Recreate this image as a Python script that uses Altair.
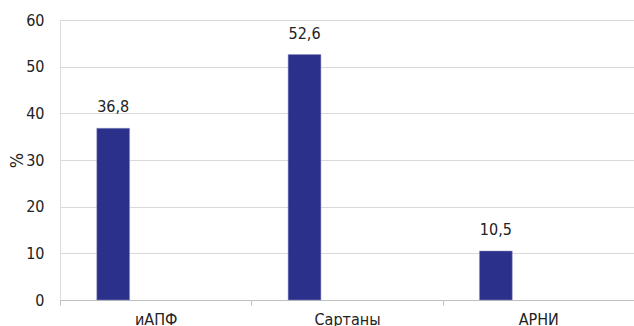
import altair as alt
import pandas as pd

categories = ["иАПФ", "Сартаны", "АРНИ"]
values = [36.8, 52.6, 10.5]
series_domain = ["s1", "s2"]  # second (empty) series slot, as in the original grouped layout

df = pd.DataFrame({"cat": categories, "val": values, "series": ["s1"] * len(categories)})

FONT = "Liberation Sans Narrow, DejaVu Sans Condensed, sans-serif"
BAR = "#2B308A"

x = alt.X("cat:N", sort=categories, title=None,
          scale=alt.Scale(paddingInner=0, paddingOuter=0),
          axis=alt.Axis(labelAngle=0, tickBand="extent", ticks=True, tickSize=5,
                        tickColor="#BFBFBF", domainColor="#BFBFBF", labelPadding=6,
                        labelFontSize=16, labelFont=FONT, labelColor="#222222", grid=False))
xo = alt.XOffset("series:N", scale=alt.Scale(domain=series_domain, paddingInner=0.614, paddingOuter=0.433))
y = alt.Y("val:Q", title="%",
          scale=alt.Scale(domain=[0, 60]),
          axis=alt.Axis(values=[0, 10, 20, 30, 40, 50, 60], ticks=False, domain=False,
                        labelPadding=16, labelFontSize=16, labelFont=FONT, labelColor="#222222",
                        gridColor="#D9D9D9", titleFontSize=18, titleFont=FONT,
                        titleFontWeight="normal", titleColor="#222222", titlePadding=-1))

base = alt.Chart(df).encode(x=x, xOffset=xo, y=y)

bars = base.mark_bar(color=BAR, stroke="#8F93C8", strokeWidth=0.5)
labels = base.transform_calculate(
    lab="replace(format(datum.val, '.1f'), '.', ',')"
).mark_text(dy=-16, baseline="alphabetic", fontSize=16, font=FONT, color="#222222").encode(text="lab:N")

chart = (bars + labels).properties(
    width=574, height=280,
    autosize=alt.AutoSizeParams(type="none"),
    padding={"left": 60, "top": 20, "right": 0, "bottom": 26},
).configure_view(stroke=None).configure(background="white")

chart.save("out.html", embed_options={"renderer": "svg", "actions": False})
